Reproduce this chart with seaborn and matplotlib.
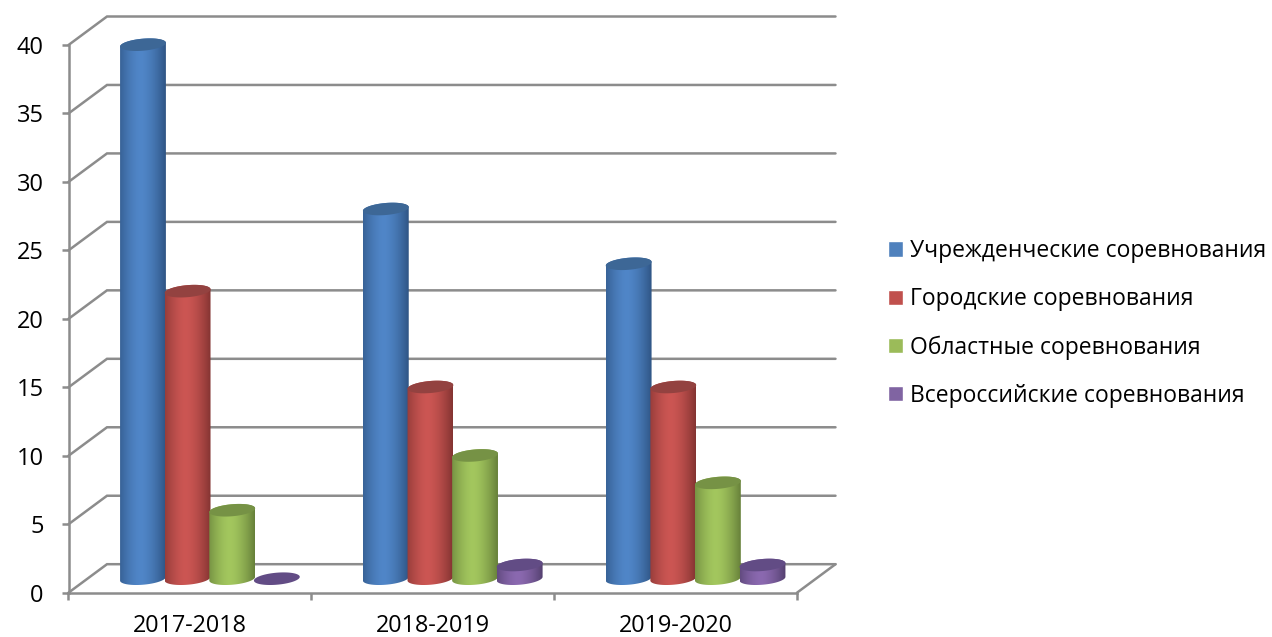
import numpy as np
import pandas as pd
import matplotlib
matplotlib.use("Agg")
import matplotlib.pyplot as plt
import seaborn as sns

years = ['2017-2018', '2018-2019', '2019-2020']
series_names = ['Учрежденческие соревнования', 'Городские соревнования',
                'Областные соревнования', 'Всероссийские соревнования']
school = [39, 27, 23]
city = [21, 14, 14]
region = [5, 9, 7]
russia = [0, 1, 1]
y_ticks = [0, 5, 10, 15, 20, 25, 30, 35, 40]

colors = ['#4f81bd', '#c0504d', '#9bbb59', '#8064a2']
dark = ['#2f5585', '#843432', '#67813a', '#54406f']
light = ['#5086c8', '#cc5653', '#a3c75e', '#8b69b0']
top_col = ['#3d6796', '#934240', '#769245', '#624c85']

W, H = 1272, 637
GRID = '#8c8c8c'

sns.set_theme(style='white')
plt.rcParams['font.family'] = ['Open Sans', 'DejaVu Sans']

df = pd.DataFrame({
    'year': years * 4,
    'kind': np.repeat(series_names, 3),
    'value': school + city + region + russia,
})

fig = plt.figure(figsize=(W / 100, H / 100), dpi=100)

# front plane of the fake 3d box
x0, x1, y0, y1 = 68.5, 797, 592.7, 45
ax = fig.add_axes([x0 / W, 1 - y0 / H, (x1 - x0) / W, (y0 - y1) / H])
ax.set_xlim(-0.5, 2.5)
ax.set_ylim(0, 40)
sx = (x1 - x0) / 3
sy = (y0 - y1) / 40
back_x = 38.5 / sx
back_y = 28.5 / sy

for v in y_ticks:
    ax.plot([-0.5, -0.5 + back_x, 2.5 + back_x], [v, v + back_y, v + back_y],
            color=GRID, lw=1.8, clip_on=False, solid_joinstyle='miter')
ax.plot([2.5, 2.5 + back_x], [0, back_y], color=GRID, lw=1.8, clip_on=False)

for s in ['top', 'right']:
    ax.spines[s].set_visible(False)
for s in ['left', 'bottom']:
    ax.spines[s].set_color(GRID)
    ax.spines[s].set_linewidth(1.8)
ax.set_yticks(y_ticks)
ax.set_xticks([-0.5, 0.5, 1.5, 2.5])
ax.set_xticklabels([])
ax.set_xticks([0, 1, 2], minor=True)
ax.set_xticklabels(years, minor=True)
ax.tick_params(axis='x', which='major', length=5, width=1.8, color=GRID, bottom=True)
ax.tick_params(axis='x', which='minor', length=0, pad=15, labelsize=16.8, labelcolor='black')
ax.tick_params(axis='y', length=5, width=1.8, color=GRID, left=True, pad=13,
               labelsize=17, labelcolor='black')

# bars sit half way back in the box, ylim starts below 0 so the round base shows
floor = -1
bar_ax = fig.add_axes([(x0 + 20) / W, 1 - (y0 - 14 - floor * sy) / H,
                       (x1 - x0) / W, (y0 - y1 - floor * sy) / H])
sns.barplot(data=df, x='year', y='value', hue='kind', hue_order=series_names,
            order=years, palette=colors, width=0.735, gap=0, saturation=1,
            ax=bar_ax, legend=True)
handles, labels = bar_ax.get_legend_handles_labels()
bar_ax.get_legend().remove()
bar_ax.axis('off')


def ellipse(cx, cy, t, a=23.0, b=6.0, tilt=np.radians(5)):
    dx = a * np.cos(t) * np.cos(tilt) - b * np.sin(t) * np.sin(tilt)
    dy = a * np.cos(t) * np.sin(tilt) + b * np.sin(t) * np.cos(tilt)
    return np.column_stack([cx + dx / sx, cy + dy / sy])


u = np.linspace(0, 1, 64)
shade = np.clip(np.abs(u - 0.45) / 0.55, 0, 1) ** 1.6
for i, cont in enumerate(bar_ax.containers):
    c_dark = np.array(matplotlib.colors.to_rgb(dark[i]))
    c_light = np.array(matplotlib.colors.to_rgb(light[i]))
    grad = (c_light[None] * (1 - shade[:, None]) + c_dark[None] * shade[:, None])[None]
    for bar in cont:
        bar.set_visible(False)
        cx = bar.get_x() + bar.get_width() / 2
        top = bar.get_height()
        half = 23.0 / sx
        if top > 0:
            # side of the cylinder: gradient clipped to the outline
            t_up = np.linspace(np.pi, 0, 40)
            t_low = np.linspace(0, -np.pi, 40)
            outline = np.vstack([ellipse(cx, top, t_up), ellipse(cx, 0, t_low)])
            im = bar_ax.imshow(grad, extent=[cx - half, cx + half, floor, top + 1],
                               aspect='auto', interpolation='bilinear', zorder=3 + i)
            poly = plt.Polygon(outline, transform=bar_ax.transData, fc='none', ec='none')
            bar_ax.add_patch(poly)
            im.set_clip_path(poly)
        lid = plt.Polygon(ellipse(cx, top, np.linspace(0, 2 * np.pi, 80)),
                          fc=top_col[i], ec='none', zorder=3 + i, clip_on=False)
        bar_ax.add_patch(lid)
bar_ax.set_xlim(-0.5, 2.5)
bar_ax.set_ylim(floor, 40)

fig.legend(handles, labels, loc='center left', bbox_to_anchor=(888 / W, 1 - 323.5 / H),
           frameon=False, fontsize=16.5, labelcolor='black', handlelength=0.655,
           handleheight=0.655, handletextpad=0.3, labelspacing=1.05, borderpad=0,
           borderaxespad=0)

fig.savefig('out.png', dpi=100)
